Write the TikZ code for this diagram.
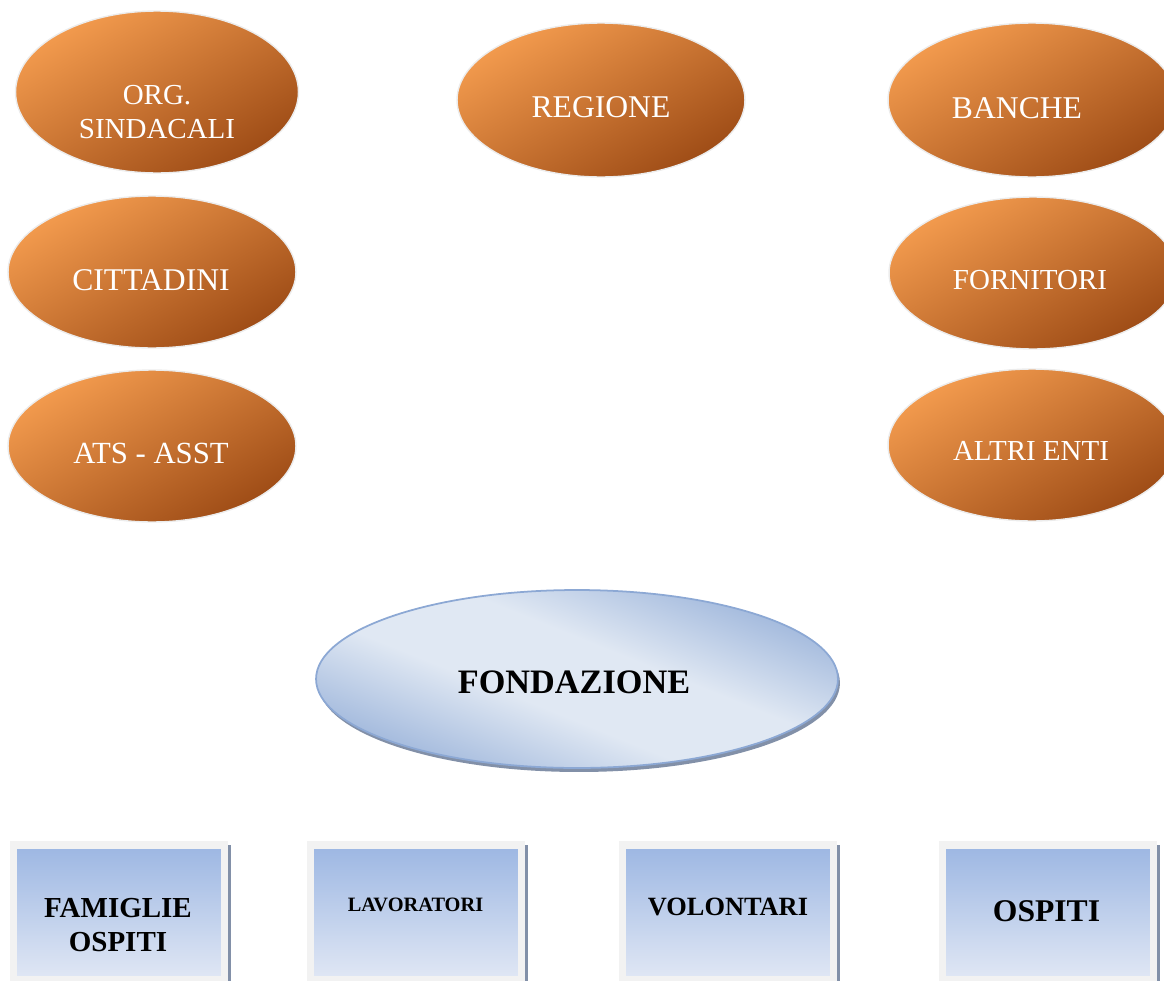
\documentclass[tikz,border=0pt]{standalone}
\usepackage{fontspec}
\setmainfont{Liberation Serif}
\usetikzlibrary{shapes.geometric, shadows}
\definecolor{orangelight}{RGB}{243,155,78}
\definecolor{orangedark}{RGB}{158,76,22}
\definecolor{blobedge}{RGB}{236,236,236}
\definecolor{bluedark}{RGB}{166,188,222}
\definecolor{bluelight}{RGB}{224,232,243}
\definecolor{blueedge}{RGB}{140,168,212}
\definecolor{shadowgray}{RGB}{130,144,168}
\definecolor{framegray}{RGB}{242,242,242}
\definecolor{boxtop}{RGB}{158,184,227}
\definecolor{boxbottom}{RGB}{223,230,244}
\pgfdeclareverticalshading{fondband}{100bp}{color(0bp)=(bluedark); color(27bp)=(bluedark);
    color(43bp)=(bluelight); color(57bp)=(bluelight); color(73bp)=(bluedark); color(100bp)=(bluedark)}

\begin{document}
\begin{tikzpicture}[x=0.02cm, y=-0.02cm,
    blob/.style={ellipse, draw=blobedge, line width=0.8pt, inner sep=0pt,
        minimum width=5.76cm, minimum height=3.04cm,
        top color=orangelight, bottom color=orangedark, shading angle=30},
    blobtext/.style={text=white, font=\fontsize{18}{21}\selectfont, align=center},
    boxframe/.style={rectangle, fill=framegray, inner sep=0pt,
        minimum width=4.38cm, minimum height=3cm,
        drop shadow={shadow xshift=0.05cm, shadow yshift=-0.08cm, fill=shadowgray, opacity=1}},
    boxinner/.style={rectangle, inner sep=0pt, minimum width=4.08cm, minimum height=2.54cm,
        top color=boxtop, bottom color=boxbottom},
    boxtext/.style={font=\bfseries, align=center}]

    \useasboundingbox (0,0) rectangle (1164,981);

    % the stakeholders round the outside:

    \node[blob, minimum width=5.66cm, minimum height=3.24cm] (org) at (157,92) {};
    \node[blobtext, font=\fontsize{16.5}{19.8}\selectfont] (orgtext) at (157,112) {ORG.\\SINDACALI};

    \node[blob, minimum height=3.08cm] (regione) at (601,100) {};
    \node[blobtext] (regionetext) at (601,107) {REGIONE};

    \node[blob, minimum height=3.08cm] (banche) at (1032,100) {};
    \node[blobtext] (banchetext) at (1017,108) {BANCHE};

    \node[blob] (cittadini) at (152,272) {};
    \node[blobtext] (cittadinitext) at (151,280) {CITTADINI};

    \node[blob] (fornitori) at (1033,273) {};
    \node[blobtext, font=\fontsize{16.5}{20}\selectfont] (fornitoritext) at (1030,280) {FORNITORI};

    \node[blob] (ats) at (152,446) {};
    \node[blobtext, font=\fontsize{17.5}{21}\selectfont] (atstext) at (151,453) {ATS - ASST};

    \node[blob] (altrienti) at (1032,445) {};
    \node[blobtext, font=\fontsize{16.5}{20}\selectfont] (altrientitext) at (1031,451) {ALTRI ENTI};

    % the foundation in the middle

    \node[ellipse, draw=blueedge, line width=1pt, inner sep=0pt,
        minimum width=10.44cm, minimum height=3.56cm,
        shade, shading=fondband, shading angle=-22,
        drop shadow={shadow xshift=0.04cm, shadow yshift=-0.08cm, fill=shadowgray, opacity=1}]
        (fondazione) at (577,679) {};
    \node[font=\bfseries\fontsize{19.5}{23}\selectfont] (fondazionetext) at (574,682) {FONDAZIONE};

    % the four boxes at the bottom:

    \node[boxframe] (famiglieframe) at (119,916) {};
    \node[boxinner] (famiglie) at (119,912.5) {};
    \node[boxtext, font=\bfseries\fontsize{16.5}{19}\selectfont] (famiglietext) at (118,925) {FAMIGLIE\\OSPITI};

    \node[boxframe] (lavoratoriframe) at (416,916) {};
    \node[boxinner] (lavoratori) at (416,912.5) {};
    \node[boxtext, font=\bfseries\fontsize{11.6}{14}\selectfont] (lavoratoritext) at (415.5,904.5) {LAVORATORI};

    \node[boxframe] (volontariframe) at (728,916) {};
    \node[boxinner] (volontari) at (728,912.5) {};
    \node[boxtext, font=\bfseries\fontsize{15}{18}\selectfont] (volontaritext) at (728,907) {VOLONTARI};

    \node[boxframe] (ospitiframe) at (1048,916) {};
    \node[boxinner] (ospiti) at (1048,912.5) {};
    \node[boxtext, font=\bfseries\fontsize{18}{21}\selectfont] (ospititext) at (1046.5,911.5) {OSPITI};
%
\end{tikzpicture}
\end{document}
